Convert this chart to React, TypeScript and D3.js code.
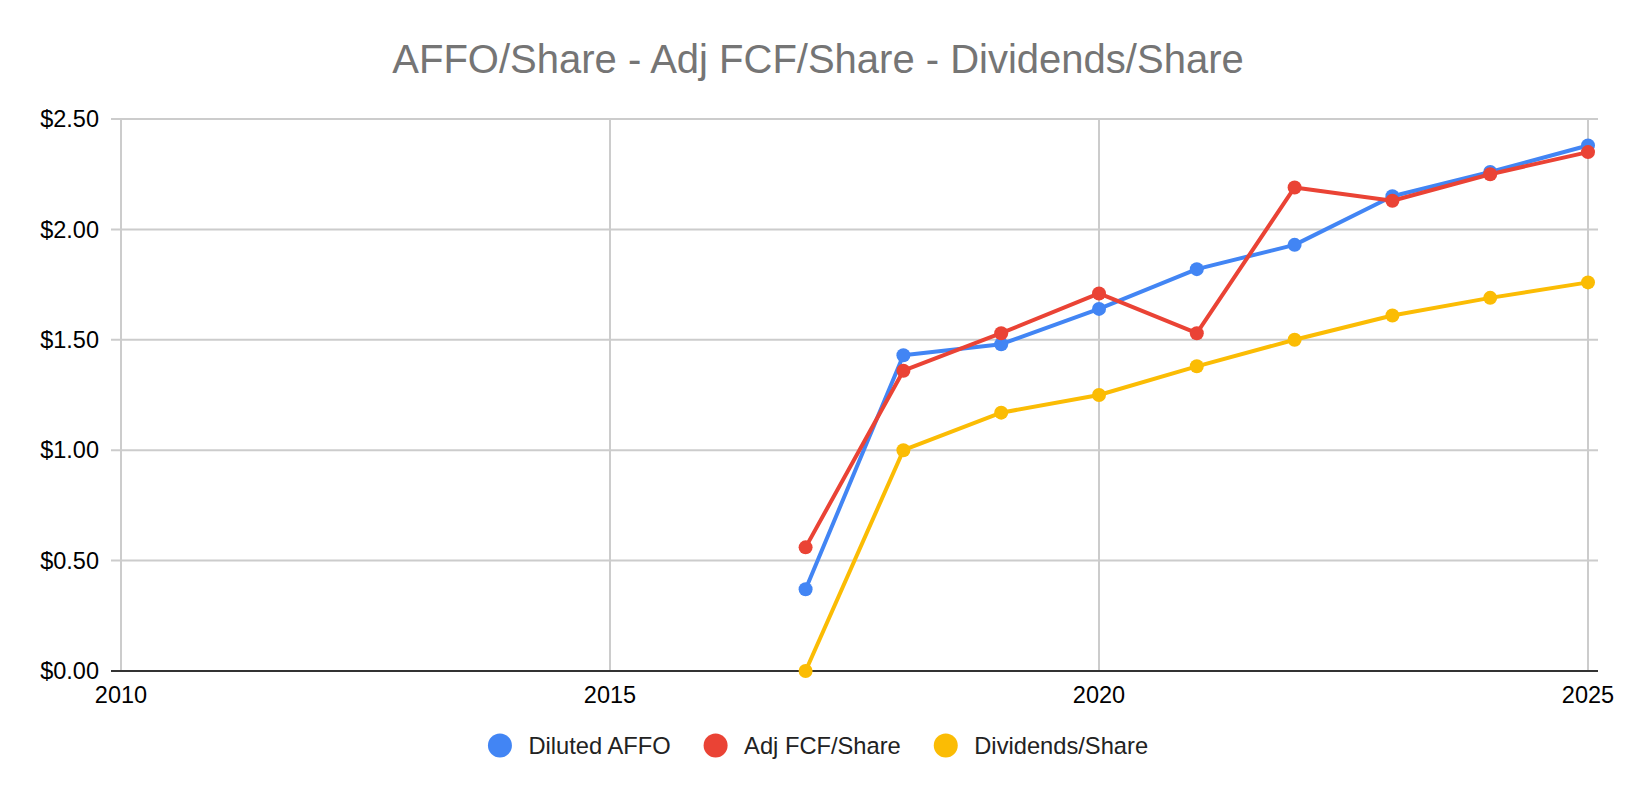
import React, { useEffect, useRef } from "react";
import * as d3 from "d3";

// values
const years = [2017, 2018, 2019, 2020, 2021, 2022, 2023, 2024, 2025];
const dilutedAffo = [0.37, 1.43, 1.48, 1.64, 1.82, 1.93, 2.15, 2.26, 2.38];
const adjFcfShare = [0.56, 1.36, 1.53, 1.71, 1.53, 2.19, 2.13, 2.25, 2.35];
const dividendsShare = [0.0, 1.0, 1.17, 1.25, 1.38, 1.5, 1.61, 1.69, 1.76];
const xTicks = [2010, 2015, 2020, 2025];
const yTicks = [0, 0.5, 1, 1.5, 2, 2.5];

const seriesNames = ["Diluted AFFO", "Adj FCF/Share", "Dividends/Share"];
const seriesColors = ["#4285F4", "#EA4335", "#FBBC04"];
const title = "AFFO/Share - Adj FCF/Share - Dividends/Share";

const W = 1636;
const H = 798;
const FONT = "'Liberation Sans', Arial, sans-serif";

const App = () => {
  const svgRef = useRef(null);

  useEffect(() => {
    document.body.style.margin = "0";
    const svg = d3.select(svgRef.current);
    svg.selectAll("*").remove();

    const margin = { top: 119, right: 48, bottom: 127, left: 121 };
    const x = d3
      .scaleLinear()
      .domain([2010, 2025])
      .range([margin.left, W - margin.right]);
    const y = d3
      .scaleLinear()
      .domain([0, 2.5])
      .range([H - margin.bottom, margin.top]);

    svg.append("rect").attr("width", W).attr("height", H).attr("fill", "#fff");

    // title
    svg
      .append("text")
      .attr("x", W / 2)
      .attr("y", 73)
      .attr("text-anchor", "middle")
      .attr("font-family", FONT)
      .attr("font-size", 40)
      .attr("fill", "#757575")
      .text(title);

    // horizontal grid + vertical grid
    const grid = svg.append("g");
    grid
      .selectAll("line.h")
      .data(yTicks.filter((d) => d !== 0))
      .join("line")
      .attr("class", "h")
      .attr("x1", x(2010) - 10)
      .attr("x2", x(2025) + 10)
      .attr("y1", (d) => y(d))
      .attr("y2", (d) => y(d))
      .attr("stroke", "#cccccc")
      .attr("stroke-width", 2);

    grid
      .selectAll("line.v")
      .data(xTicks)
      .join("line")
      .attr("class", "v")
      .attr("x1", (d) => x(d))
      .attr("x2", (d) => x(d))
      .attr("y1", y(2.5))
      .attr("y2", y(0))
      .attr("stroke", "#cccccc")
      .attr("stroke-width", 2);

    const fmt = d3.format("$.2f");
    svg
      .append("g")
      .selectAll("text")
      .data(yTicks)
      .join("text")
      .attr("x", x(2010) - 22)
      .attr("y", (d) => y(d))
      .attr("dy", "0.35em")
      .attr("text-anchor", "end")
      .attr("font-family", FONT)
      .attr("font-size", 23.5)
      .attr("fill", "#000")
      .text((d) => fmt(d));

    svg
      .append("g")
      .selectAll("text")
      .data(xTicks)
      .join("text")
      .attr("x", (d) => x(d))
      .attr("y", 703)
      .attr("text-anchor", "middle")
      .attr("font-family", FONT)
      .attr("font-size", 23.5)
      .attr("fill", "#000")
      .text((d) => d);

    // baseline
    svg
      .append("line")
      .attr("x1", x(2010) - 10)
      .attr("x2", x(2025) + 10)
      .attr("y1", y(0))
      .attr("y2", y(0))
      .attr("stroke", "#333333")
      .attr("stroke-width", 2);

    // series
    const allSeries = [dilutedAffo, adjFcfShare, dividendsShare];
    const line = d3
      .line()
      .x((d) => x(d[0]))
      .y((d) => y(d[1]));

    allSeries.forEach((vals, i) => {
      const pts = years.map((yr, j) => [yr, vals[j]]);
      const g = svg.append("g");
      g.append("path")
        .datum(pts)
        .attr("d", line)
        .attr("fill", "none")
        .attr("stroke", seriesColors[i])
        .attr("stroke-width", 4)
        .attr("stroke-linejoin", "round");
      g.selectAll("circle")
        .data(pts)
        .join("circle")
        .attr("cx", (d) => x(d[0]))
        .attr("cy", (d) => y(d[1]))
        .attr("r", 7)
        .attr("fill", seriesColors[i]);
    });

    // legend
    const legend = svg.append("g");
    let cursor = 0;
    seriesNames.forEach((name, i) => {
      const item = legend.append("g");
      item
        .append("circle")
        .attr("cx", cursor + 12)
        .attr("cy", 745.5)
        .attr("r", 12)
        .attr("fill", seriesColors[i]);
      const t = item
        .append("text")
        .attr("x", cursor + 40.5)
        .attr("y", 745.5)
        .attr("dy", "0.35em")
        .attr("font-family", FONT)
        .attr("font-size", 23.7)
        .attr("fill", "#222")
        .text(name);
      const tw = t.node().getComputedTextLength();
      cursor += 40.5 + tw + 33;
    });
    const totalW = cursor - 33;
    legend.attr("transform", `translate(${W / 2 - totalW / 2}, 0)`);
  }, []);

  return (
    <svg
      ref={svgRef}
      width={W}
      height={H}
      style={{ position: "absolute", left: 0, top: 0 }}
    ></svg>
  );
};

export default App;
